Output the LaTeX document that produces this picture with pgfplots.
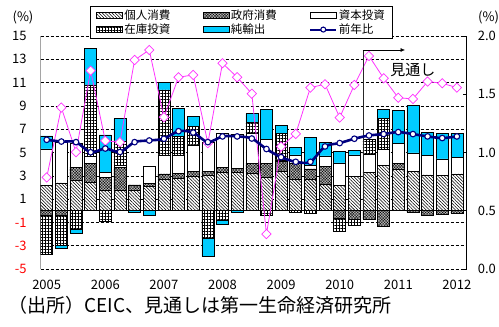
\documentclass[border=0pt]{standalone}
\usepackage{pgfplots}
\pgfplotsset{compat=1.18}
\usepackage{pgfplotstable}
\usepackage{fontspec}
\setmainfont{Noto Sans CJK JP}
\usetikzlibrary{patterns.meta,arrows.meta}
\definecolor{netc}{RGB}{0,204,255}
\definecolor{navyc}{RGB}{0,0,128}
\definecolor{magc}{RGB}{255,51,255}

% positive parts of the contributions
\pgfplotstableread{
x C G I S N
0 2.17 0 3.14 0 1.12
1 2.40 0 3.49 0 0
2 2.66 1.06 2.09 0 0
3 2.46 1.63 0.60 6.11 3.14
4 1.80 1.09 0.42 0 3.20
5 1.80 1.90 0.20 2.10 1.90
6 1.80 0.43 0 0 0
7 2.09 0.28 1.43 0 0
8 2.74 0.43 1.63 5.57 0.66
9 2.80 0.40 1.60 1.58 2.42
10 2.94 0.43 2.29 1.57 0.86
11 3.09 0.30 2.50 0 0
12 3.30 0.40 2.97 0 0
13 3.30 0.35 2.95 0 0
14 3.23 0.86 2.58 0.91 0.75
15 2.85 1.24 2.06 0 2.52
16 3.37 0.86 0.14 2.30 0.63
17 2.70 1.40 0.70 0 0.63
18 2.70 0.90 0.30 0 2.40
19 2.29 1.51 0.91 0 1.18
20 2.20 0 1.90 0 1.00
21 2.94 0 1.86 0 0.37
22 3.30 0 1.55 1.25 0
23 3.90 0 1.40 2.60 0.80
24 3.60 0.49 1.72 0 2.80
25 3.40 0 1.57 0 4.10
26 3.09 0 1.64 0 2.00
27 3.03 0 1.43 0 2.20
28 3.17 0 1.40 0 2.10
}\postab

% negative parts of the contributions
\pgfplotstableread{
x G S N
0 -0.40 -3.37 0
1 -0.40 -2.58 -0.22
2 0 -1.63 -0.28
3 0 0 0
4 0 -0.91 0
5 0 0 0
6 0 0 -0.10
7 0 0 -0.40
8 0 0 0
9 0 0 0
10 0 0 0
11 0 -2.34 -1.60
12 0 -0.85 -0.27
13 0 0 -0.10
14 0 0 0
15 0 -0.35 0
16 0 0 0
17 0 -0.10 0
18 0 -0.20 0
19 0 0 0
20 -0.63 -1.15 0
21 -0.70 -0.55 0
22 -0.69 0 0
23 -1.37 0 0
24 0 0 0
25 -0.17 0 0
26 -0.37 0 0
27 -0.29 0 0
28 -0.20 0 0
}\negtab

% yoy (left axis) and qoq (right axis)
\pgfplotstableread{
x yoy qoq
0 6.09 0.786
1 5.94 1.386
2 5.89 1.003
3 5.02 1.703
4 5.34 1.100
5 5.04 1.089
6 5.89 1.794
7 6.03 1.880
8 6.18 1.303
9 6.83 1.646
10 6.71 1.666
11 5.89 1.080
12 6.38 1.766
13 6.38 1.646
14 6.20 1.505
15 5.30 0.300
16 4.60 1.051
17 4.20 1.160
18 4.20 1.557
19 5.52 1.586
20 5.81 1.300
21 6.18 1.580
22 6.46 1.829
23 6.58 1.637
24 6.75 1.470
25 6.58 1.460
26 6.38 1.609
27 6.24 1.594
28 6.38 1.557
}\linetab

\pgfplotsset{
  base/.style={scale only axis, width=426pt, height=233pt,
    at={(40.7pt,58pt)}, anchor=south west,
    xmin=-0.41, xmax=28.67},
  sC/.style={draw=black, line width=0.5pt, fill=white,
    postaction={pattern={Lines[angle=-45,distance=2.3pt,line width=0.55pt]}}},
  sG/.style={draw=black, line width=0.5pt, fill=gray!55,
    postaction={pattern={Hatch[angle=45,distance=2pt,line width=0.3pt]}}},
  sI/.style={draw=black, line width=0.5pt, fill=white},
  sS/.style={draw=black, line width=0.5pt, fill=white,
    postaction={pattern={Hatch[angle=0,distance=3pt,line width=0.5pt]}}},
  sN/.style={draw=black, line width=0.5pt, fill=netc},
  sY/.style={navyc, line width=2.6pt, mark=*, mark size=2.8pt,
    mark options={fill=white, draw=navyc, line width=1.1pt}},
  boxleg/.style={legend image code/.code={\draw[##1] (0pt,-3pt) rectangle (26pt,3pt);}},
  lineleg/.style={legend image code/.code={\draw[mark repeat=2,mark phase=2,##1] plot coordinates {(0pt,0pt) (13pt,0pt) (26pt,0pt)};}},
}

\begin{document}
\begin{tikzpicture}
\useasboundingbox (0,0) rectangle (499pt,327pt);

% axis 1: grid, left labels, positive bars
\begin{axis}[base, ymin=-5, ymax=15,
  ybar stacked, bar width=0.82, stacked ignores zero,
  axis line style={draw=none},
  ymajorgrids, grid style={black, line width=0.5pt, dash pattern=on 3pt off 2pt},
  ytick={-5,-3,...,15},
  yticklabels={\textcolor{red}{-5},\textcolor{red}{-3},\textcolor{red}{-1},1,3,5,7,9,11,13,15},
  xtick={0,4,...,28},
  xticklabels={2005,2006,2007,2008,2009,2010,2011,2012},
  tick style={draw=none},
  tick label style={font=\fontsize{13}{13}\selectfont},
  yticklabel style={anchor=east, inner sep=0pt, xshift=-14pt},
  xticklabel style={anchor=center, inner sep=0pt, yshift=-16pt},
]
\addplot[sC] table[x=x,y=C]{\postab};
\addplot[sG] table[x=x,y=G]{\postab};
\addplot[sI] table[x=x,y=I]{\postab};
\addplot[sS] table[x=x,y=S]{\postab};
\addplot[sN] table[x=x,y=N]{\postab};
\end{axis}

% axis 2: negative bars, zero line, left axis line
\begin{axis}[base, ymin=-5, ymax=15, hide axis,
  ybar stacked, bar width=0.82, stacked ignores zero]
\addplot[sG] table[x=x,y=G]{\negtab};
\addplot[sS] table[x=x,y=S]{\negtab};
\addplot[sN] table[x=x,y=N]{\negtab};
\draw[black, line width=0.8pt] (axis cs:-0.41,0) -- (axis cs:28.67,0);
\draw[black, line width=0.8pt] (axis cs:-0.41,-5) -- (axis cs:-0.41,15);
\end{axis}

% axis 3: right axis and q/q line
\begin{axis}[base, ymin=0, ymax=2,
  axis y line*=right, axis x line=none, xtick=\empty,
  ytick={0,0.5,1,1.5,2},
  yticklabels={0.0,0.5,1.0,1.5,2.0},
  tick align=inside, major tick length=4pt,
  ytick style={black, line width=0.6pt},
  axis line style={black, line width=0.8pt},
  tick label style={font=\fontsize{13}{13}\selectfont},
  yticklabel style={anchor=west, inner sep=0pt, xshift=11pt},
]
\addplot[magc, line width=0.8pt, mark=square*, mark size=3.3pt,
  mark options={rotate=45, fill=white, draw=magc, line width=0.7pt}]
  table[x=x,y=qoq]{\linetab};
\end{axis}

% axis 4: y/y line, forecast marker, legend
\begin{axis}[base, ymin=-5, ymax=15, hide axis,
  legend columns=3,
  legend cell align=left,
  legend style={at={(axis description cs:0.1157,1.1288)}, anchor=north west,
    draw=black, line width=0.6pt, fill=white,
    font=\fontsize{11.5}{13}\selectfont,
    inner xsep=6pt, inner ysep=2pt,
    nodes={inner sep=1.5pt},
    column sep=0pt, row sep=0pt,
    /tikz/every even column/.append style={column sep=31pt}},
]
\addlegendimage{boxleg, sC}
\addlegendimage{boxleg, sG}
\addlegendimage{boxleg, sI}
\addlegendimage{boxleg, sS}
\addlegendimage{boxleg, sN}
\addlegendimage{lineleg, sY, line width=2pt, mark size=2.5pt}
\legend{個人消費,政府消費,資本投資,在庫投資,純輸出,前年比}

\draw[black!85, line width=0.6pt] (axis cs:21.59,0) -- (axis cs:21.59,13.8);
\draw[black, line width=0.6pt, -{Latex[length=4.5pt,width=4pt]}] (axis cs:21.59,13.8) -- (axis cs:24.46,13.8);
\node[font=\fontsize{15}{15}\selectfont, inner sep=0pt] at (axis cs:25.0,12.1) {見通し};

\addplot[sY, smooth, tension=0.5, forget plot] table[x=x,y=yoy]{\linetab};
\end{axis}

\node[font=\fontsize{13}{13}\selectfont, inner sep=0pt] at (23pt,309.5pt) {(\%)};
\node[font=\fontsize{13}{13}\selectfont, inner sep=0pt, anchor=west] at (478pt,309.5pt) {(\%)};
\node[font=\fontsize{19}{19}\selectfont, inner sep=0pt, anchor=west] at (8pt,22pt) {（出所）CEIC、見通しは第一生命経済研究所};
\end{tikzpicture}
\end{document}
